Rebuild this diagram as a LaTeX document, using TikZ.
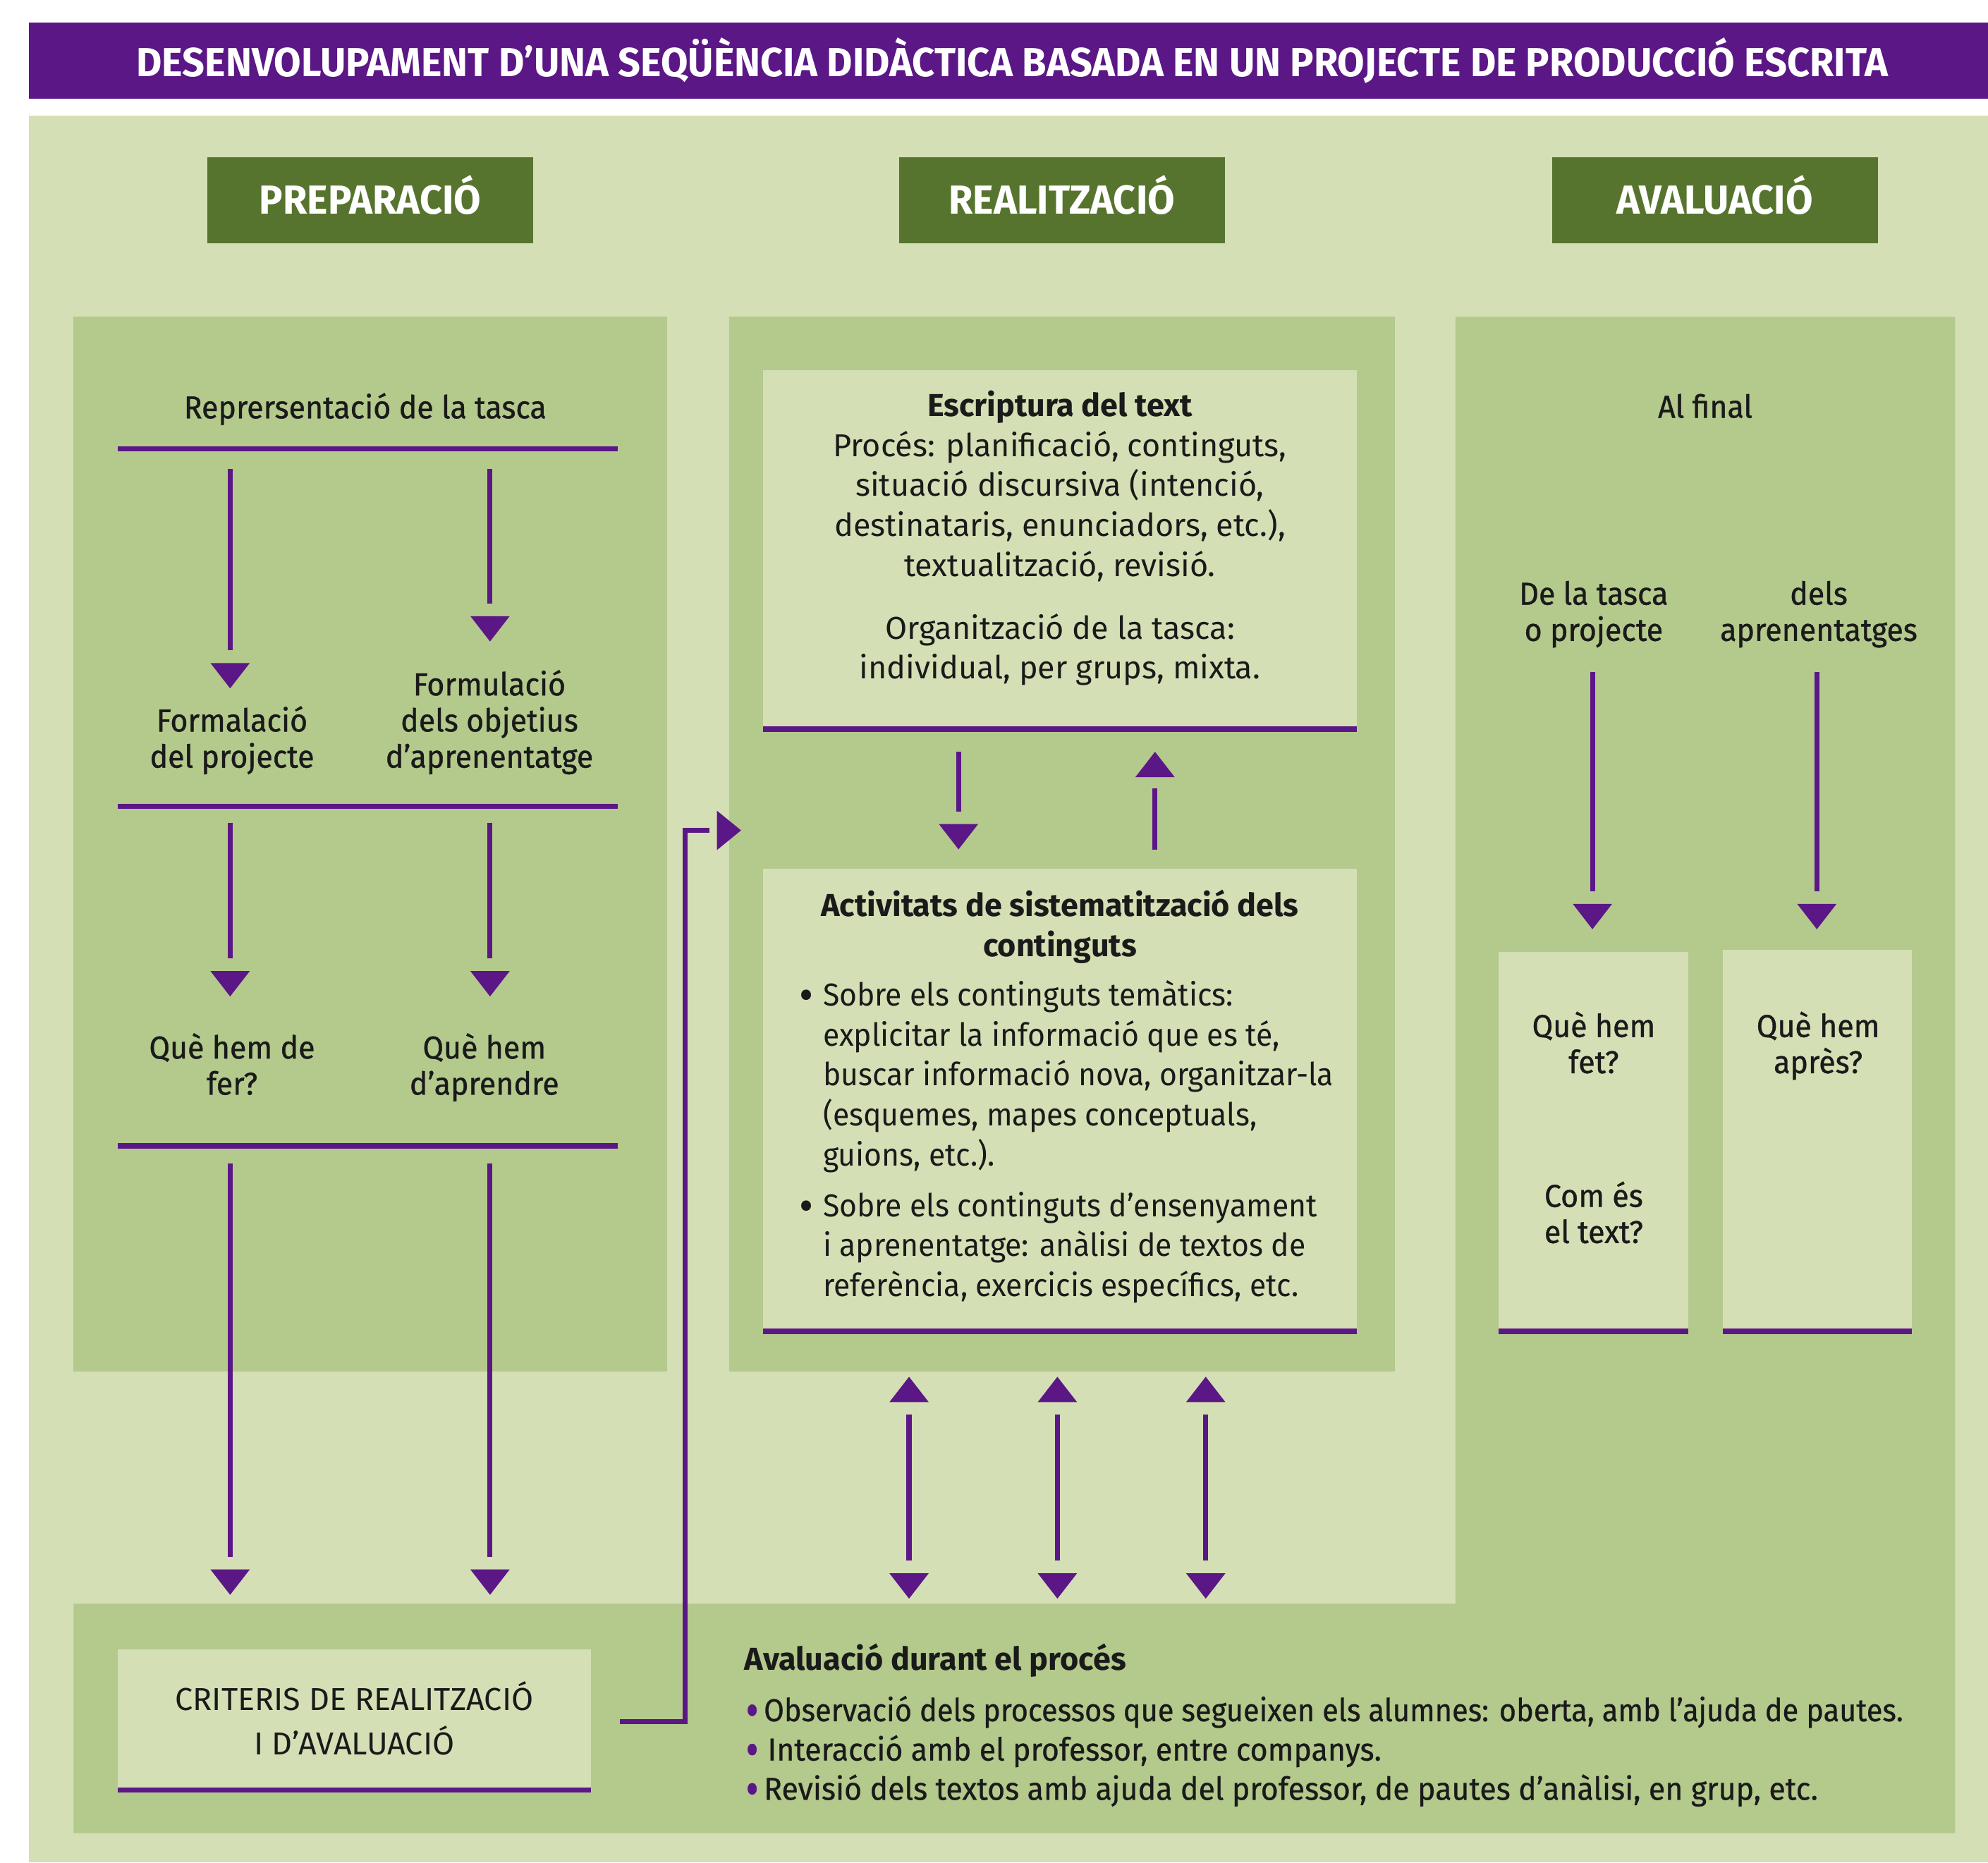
\documentclass[tikz,border=0pt]{standalone}
\usepackage{fontspec}
\setmainfont{Fira Sans}
\newfontfamily\titlefont{Fira Sans}[FakeStretch=0.97]
\newfontfamily\lblfont{Fira Sans}[FakeStretch=0.955,FakeBold=0.8]
\newfontfamily\bulfont{Fira Sans}[FakeStretch=0.95]
\newfontfamily\botfont{Fira Sans}[FakeStretch=0.925,FakeBold=0.6]
\newfontfamily\botfontb{Fira Sans}[FakeStretch=0.955,FakeBold=0.6]
\definecolor{bgl}{HTML}{D4DFB5}
\definecolor{bgm}{HTML}{B4C98C}
\definecolor{dkg}{HTML}{56742E}
\definecolor{pur}{HTML}{5B1786}
\definecolor{ink}{HTML}{1A1A1A}
\newcommand\bodyfs{\fontsize{25}{31.5}\selectfont}
\newcommand\lblfs{\lblfont\fontsize{25}{28.5}\selectfont}
\newcommand\hdfs{\titlefont\bfseries\fontsize{32}{32}\selectfont}
\newcommand\blt{\makebox[19pt][l]{\smash{\raisebox{-4pt}{\scalebox{1.45}{•}}}}}
\newcommand\pblt{{\color{pur}\smash{\raisebox{-5pt}{\scalebox{1.35}[1.6]{•}}}}}
\begin{document}
\begin{tikzpicture}[x=1pt,y=-1pt,
  conn/.style={draw=pur,line width=4pt},
  hbar/.style={draw=pur,line width=4.3pt},
  txt/.style={inner sep=0pt,text=ink,font=\lblfs,align=center,anchor=base},
  btxt/.style={inner sep=0pt,text=ink,font=\bodyfs,align=center,anchor=base},
  ltxt/.style={inner sep=0pt,text=ink,font=\bodyfs,align=left,anchor=base west},
  hdr/.style={fill=dkg,minimum width=257pt,minimum height=68pt,inner sep=0pt,
    text=white,font=\hdfs,text height=22pt,text depth=0pt},
  tridown/.pic={\fill[pur] (0,0) -- (-15.5,-20) -- (15.5,-20) -- cycle;},
  triup/.pic={\fill[pur] (0,0) -- (-15.5,20) -- (15.5,20) -- cycle;},
  triright/.pic={\fill[pur] (0,0) -- (-19,-15.5) -- (-19,15.5) -- cycle;}
]
\useasboundingbox (0,0) rectangle (1568,1469);
\fill[white] (0,0) rectangle (1568,1469);
% title bar
\fill[pur] (23,18) rectangle (1568,78);
\node[inner sep=0pt,text=white,font=\hdfs,text height=22pt,text depth=0pt] (title) at (798.5,49.6)
  {DESENVOLUPAMENT D’UNA SEQÜÈNCIA DIDÀCTICA BASADA EN UN PROJECTE DE PRODUCCIÓ ESCRITA};
% background
\fill[bgl] (23,91) rectangle (1568,1469);
% headers
\node[hdr] (hprep) at (292,158) {PREPARACIÓ};
\node[hdr] (hreal) at (837.5,158) {REALITZACIÓ};
\node[hdr] (haval) at (1352.5,158) {AVALUACIÓ};
% panels
\fill[bgm] (58,250) rectangle (526,1082);
\fill[bgm] (575,250) rectangle (1100,1082);
\fill[bgm] (1148,250) -- (1542,250) -- (1542,1446) -- (58,1446) -- (58,1265) -- (1148,1265) -- cycle;

% ---------- PREPARACIO ----------
\node[txt] (repr) at (288,330) {Reprersentació de la tasca};
\draw[hbar] (93,354) -- (487,354);
\node[txt] (form) at (183,605.5) {Formalació\\del projecte};
\node[txt] (obj) at (386,605.5) {Formulació\\dels objetius\\d’aprenentatge};
\draw[hbar] (93,636) -- (487,636);
\node[txt] (quefer) at (183,863.5) {Què hem de\\fer?};
\node[txt] (queapr) at (382,863.5) {Què hem\\d’aprendre};
\draw[hbar] (93,904) -- (487,904);

\coordinate (a1s) at (181.5,370); \coordinate (a1e) at (181.5,513); \coordinate (a1t) at (181.5,543);
\coordinate (a2s) at (386.5,370); \coordinate (a2e) at (386.5,476); \coordinate (a2t) at (386.5,506);
\coordinate (a3s) at (181.5,649); \coordinate (a3e) at (181.5,756); \coordinate (a3t) at (181.5,786);
\coordinate (a4s) at (386.5,649); \coordinate (a4e) at (386.5,756); \coordinate (a4t) at (386.5,786);
\coordinate (a5s) at (181.5,918); \coordinate (a5e) at (181.5,1228); \coordinate (a5t) at (181.5,1258);
\coordinate (a6s) at (386.5,918); \coordinate (a6e) at (386.5,1228); \coordinate (a6t) at (386.5,1258);
\foreach \a in {a1,a2,a3,a4,a5,a6}{\draw[conn] (\a s) -- (\a e); \pic at (\a t) {tridown};}

% ---------- REALITZACIO ----------
\fill[bgl] (602,292) rectangle (1070,575);
\draw[hbar] (602,575) -- (1070,575);
\node[btxt] (escr) at (836,454.5) {{\bfseries Escriptura del text}\\Procés: planificació, continguts,\\situació discursiva (intenció,\\destinataris, enunciadors, etc.),\\textualització, revisió.};
\node[btxt] (org) at (836,535.5) {Organització de la tasca:\\individual, per grups, mixta.};

\coordinate (m1s) at (756,593); \coordinate (m1e) at (756,640); \coordinate (m1t) at (756,670);
\draw[conn] (m1s) -- (m1e); \pic at (m1t) {tridown};
\coordinate (m2s) at (911,670); \coordinate (m2e) at (911,622); \coordinate (m2t) at (911,593);
\draw[conn] (m2s) -- (m2e); \pic at (m2t) {triup};

\fill[bgl] (602,685) rectangle (1070,1050);
\draw[hbar] (602,1050) -- (1070,1050);
\node[btxt] (act) at (836,754.5) {{\bfseries Activitats de sistematització dels}\\{\bfseries continguts}};
\node[ltxt,font=\bulfont\bodyfs] (bul1) at (630,919.5) {\blt Sobre els continguts temàtics:\\
\hspace*{19pt}explicitar la informació que es té,\\
\hspace*{19pt}buscar informació nova, organitzar-la\\
\hspace*{19pt}(esquemes, mapes conceptuals,\\
\hspace*{19pt}guions, etc.).};
\node[ltxt,font=\bulfont\bodyfs] (bul2) at (630,1022.5) {\blt Sobre els continguts d’ensenyament\\
\hspace*{19pt}i aprenentatge: anàlisi de textos de\\
\hspace*{19pt}referència, exercicis específics, etc.};

\foreach \x [count=\i] in {717,834,951}{
  \coordinate (d\i t) at (\x,1086); \coordinate (d\i s) at (\x,1116);
  \coordinate (d\i e) at (\x,1231); \coordinate (d\i b) at (\x,1261);
  \draw[conn] (d\i s) -- (d\i e);
  \pic at (d\i t) {triup}; \pic at (d\i b) {tridown};
}

% ---------- AVALUACIO ----------
\node[txt] (alfinal) at (1345,329.5) {Al final};
\node[txt] (tasca) at (1257,505.5) {De la tasca\\o projecte};
\node[txt] (aprs) at (1434.5,505.5) {dels\\aprenentatges};
\coordinate (r1s) at (1256,530); \coordinate (r1e) at (1256,703); \coordinate (r1t) at (1256,733);
\coordinate (r2s) at (1433,530); \coordinate (r2e) at (1433,703); \coordinate (r2t) at (1433,733);
\foreach \a in {r1,r2}{\draw[conn] (\a s) -- (\a e); \pic at (\a t) {tridown};}

\fill[bgl] (1182,751) rectangle (1331.5,1050);
\draw[hbar] (1182,1050) -- (1331.5,1050);
\fill[bgl] (1359,749) rectangle (1508,1050);
\draw[hbar] (1359,1050) -- (1508,1050);
\node[txt] (fet) at (1257,846.5) {Què hem\\fet?};
\node[txt] (text) at (1257,980.5) {Com és\\el text?};
\node[txt] (apres) at (1434,846.5) {Què hem\\après?};

% ---------- bottom ----------
\fill[bgl] (93,1301) rectangle (466,1412);
\draw[hbar] (93,1412) -- (466,1412);
\node[inner sep=0pt,text=ink,font=\fontsize{25}{35}\selectfont,align=center,anchor=base] (crit) at (279.5,1384)
  {CRITERIS DE REALITZACIÓ\\I D’AVALUACIÓ};
\coordinate (c0) at (489,1358);
\coordinate (c1) at (540.5,1358);
\coordinate (c2) at (540.5,655);
\coordinate (c3) at (559.5,655);
\coordinate (c4) at (584.5,655);
\draw[conn,line join=miter] (c0) -- (c1) -- (c2) -- (c3);
\pic at (c4) {triright};

\node[ltxt,font=\bodyfs\bfseries] (durant) at (587,1317.5) {Avaluació durant el procés};
\node[ltxt,font=\botfont\fontsize{25}{31}\selectfont] (bul3) at (588,1419.7) {%
\pblt\,Observació dels processos que segueixen els alumnes: oberta, amb l’ajuda de pautes.\\
\pblt\,\hspace{3pt}{\botfontb Interacció amb el professor, entre companys.}\\
\pblt\,{\botfontb Revisió dels textos amb ajuda del professor, de pautes d’anàlisi, en grup, etc.}};
\end{tikzpicture}
\end{document}
